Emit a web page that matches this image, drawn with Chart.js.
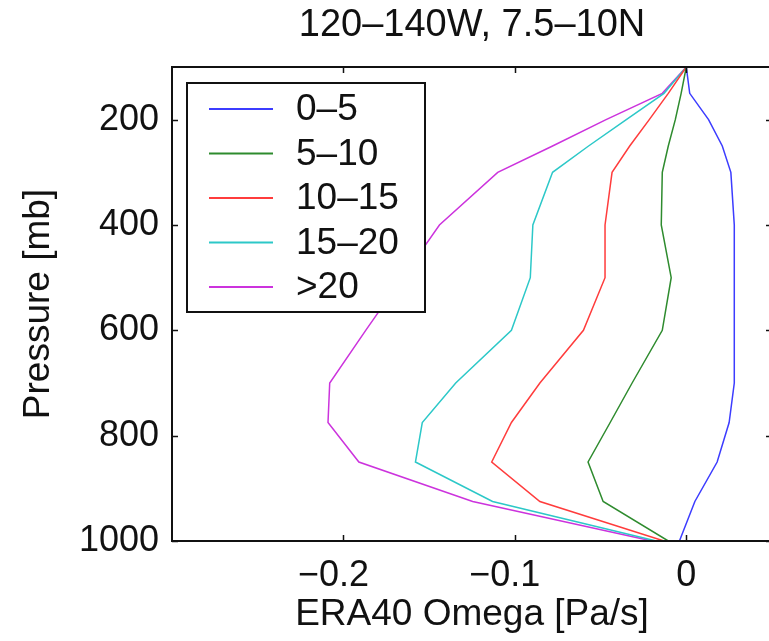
<!DOCTYPE html>
<html>
<head>
<meta charset="utf-8">
<script src="https://cdn.jsdelivr.net/npm/chart.js@4.4.1/dist/chart.umd.min.js"></script>
<style>
  html, body { margin: 0; padding: 0; background: #fff; overflow: hidden; }
  #wrap { position: relative; width: 790px; height: 641px; }
</style>
</head>
<body>
<div id="wrap"><canvas id="chart"></canvas></div>
<script>
// pressure levels (mb) and mean omega (Pa/s) per bin
const pressure = [100, 150, 200, 250, 300, 400, 500, 600, 700, 775, 850, 925, 1000];
const omega0to5 = [0.000, 0.002, 0.013, 0.021, 0.026, 0.028, 0.028, 0.028, 0.028, 0.025, 0.018, 0.005, -0.004];
const omega5to10 = [0.000, -0.003, -0.0064, -0.0105, -0.014, -0.0146, -0.0088, -0.014, -0.0316, -0.0444, -0.0573, -0.0485, -0.0105];
const omega10to15 = [0.000, -0.0105, -0.0216, -0.033, -0.0433, -0.0474, -0.0474, -0.060, -0.0854, -0.102, -0.1135, -0.0854, -0.013];
const omega15to20 = [0.000, -0.013, -0.035, -0.057, -0.078, -0.0895, -0.091, -0.102, -0.1345, -0.154, -0.158, -0.113, -0.0175];
const omegaOver20 = [0.000, -0.014, -0.0468, -0.078, -0.110, -0.144, -0.1655, -0.187, -0.208, -0.209, -0.191, -0.1246, -0.020];

const seriesLabels = ['0\u20135', '5\u201310', '10\u201315', '15\u201320', '>20'];
const seriesColors = ['#3c3cff', '#2e8b2e', '#ff3c3c', '#2cc8c8', '#cc33dd'];
const xTicks = [-0.2, -0.1, 0];
const yTicks = [200, 400, 600, 800, 1000];
const titleText = '120\u2013140W, 7.5\u201310N';

const FONT = '"Liberation Sans", Arial, Helvetica, sans-serif';
const INK = '#111';

function profile(values) {
  return values.map((v, i) => ({ x: v, y: pressure[i] }));
}

const allSeries = [omega0to5, omega5to10, omega10to15, omega15to20, omegaOver20];

// title over the axes, axis box, inward ticks and the boxed legend (matlab style)
const frame = {
  id: 'frame',
  afterDraw(chart) {
    const { ctx, chartArea: a, scales } = chart;
    ctx.save();

    ctx.fillStyle = INK;
    ctx.font = '38px ' + FONT;
    ctx.textAlign = 'center';
    ctx.textBaseline = 'middle';
    ctx.fillText(titleText, (a.left + a.right) / 2, 26);

    ctx.strokeStyle = INK;
    ctx.lineWidth = 1.5;
    ctx.beginPath();
    xTicks.forEach(v => {
      const px = Math.round(scales.x.getPixelForValue(v)) + 0.5;
      ctx.moveTo(px, a.bottom); ctx.lineTo(px, a.bottom - 6);
      ctx.moveTo(px, a.top); ctx.lineTo(px, a.top + 6);
    });
    yTicks.forEach(v => {
      const py = Math.round(scales.y.getPixelForValue(v)) + 0.5;
      ctx.moveTo(a.left, py); ctx.lineTo(a.left + 6, py);
      ctx.moveTo(a.right, py); ctx.lineTo(a.right - 6, py);
    });
    ctx.stroke();
    ctx.lineWidth = 2;
    ctx.strokeRect(a.left, a.top, a.right - a.left, a.bottom - a.top);

    // legend
    const lx = 187, ly = 83, lw = 238, lh = 229;
    ctx.fillStyle = '#fff';
    ctx.fillRect(lx, ly, lw, lh);
    ctx.lineWidth = 2;
    ctx.strokeRect(lx, ly, lw, lh);
    ctx.font = '37px ' + FONT;
    ctx.textBaseline = 'middle';
    ctx.textAlign = 'left';
    chart.data.datasets.forEach((ds, i) => {
      const y = 109 + i * 44.5;
      ctx.strokeStyle = ds.borderColor;
      ctx.lineWidth = 2;
      ctx.beginPath();
      ctx.moveTo(209, y); ctx.lineTo(273, y);
      ctx.stroke();
      ctx.fillStyle = INK;
      ctx.fillText(ds.label, 296, y + 1);
    });
    ctx.restore();
  }
};

new Chart(document.getElementById('chart'), {
  type: 'scatter',
  data: {
    datasets: allSeries.map((vals, i) => ({
      label: seriesLabels[i],
      data: profile(vals),
      showLine: true,
      borderColor: seriesColors[i],
      backgroundColor: seriesColors[i],
      borderWidth: 1.5,
      pointRadius: 0,
      tension: 0
    }))
  },
  options: {
    responsive: true,
    maintainAspectRatio: false,
    animation: false,
    layout: { padding: { top: 67, right: 18, bottom: 0, left: 0 } },
    plugins: {
      legend: { display: false },
      tooltip: { enabled: false },
      title: { display: false }
    },
    scales: {
      x: {
        type: 'linear',
        min: -0.3,
        max: 0.05,
        afterBuildTicks: s => { s.ticks = xTicks.map(v => ({ value: v })); },
        afterFit: s => { s.height = 100; },
        grid: { display: false, drawTicks: false },
        border: { display: false },
        ticks: {
          color: INK,
          padding: 13,
          autoSkip: false,
          maxRotation: 0,
          font: { family: FONT, size: 36 },
          // matlab centres the digits and lets the minus hang to the left
          callback: v => v === 0 ? '0' : '\u2212' + Math.abs(v).toFixed(1) + '  '
        },
        title: {
          display: true,
          text: 'ERA40 Omega [Pa/s]',
          color: INK,
          font: { family: FONT, size: 37, lineHeight: 1.2 },
          padding: { top: 0, bottom: 4 }
        }
      },
      y: {
        type: 'linear',
        reverse: true,
        min: 100,
        max: 1000,
        afterBuildTicks: s => { s.ticks = yTicks.map(v => ({ value: v })); },
        afterFit: s => { s.width = 172; },
        grid: { display: false, drawTicks: false },
        border: { display: false },
        ticks: {
          color: INK,
          padding: 13,
          autoSkip: false,
          font: { family: FONT, size: 36 },
          callback: v => String(v)
        },
        title: {
          display: true,
          text: 'Pressure [mb]',
          color: INK,
          font: { family: FONT, size: 37, lineHeight: 1.2 },
          padding: { top: 17, bottom: 0 }
        }
      }
    }
  },
  plugins: [frame]
});
</script>
</body>
</html>
